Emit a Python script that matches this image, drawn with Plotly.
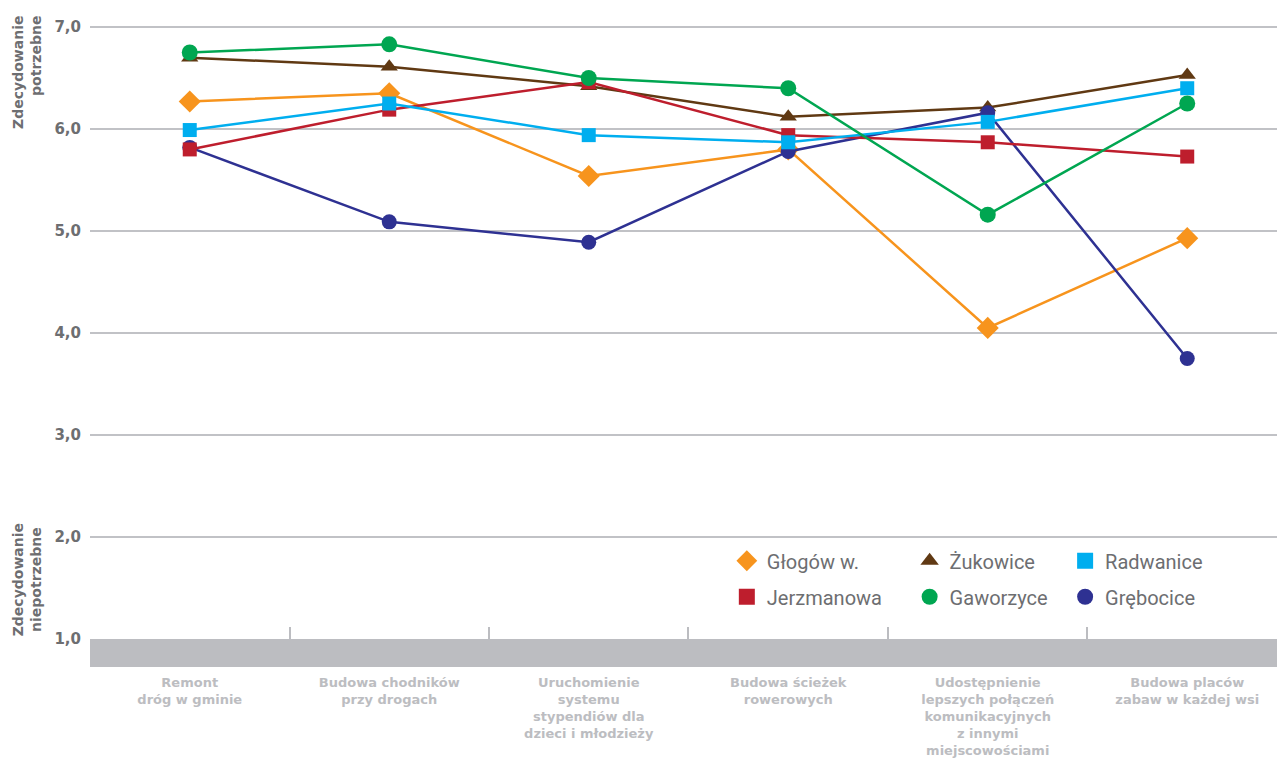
import plotly.graph_objects as go

categories = [
    "Remont<br>dróg w gminie",
    "Budowa chodników<br>przy drogach",
    "Uruchomienie<br>systemu<br>stypendiów dla<br>dzieci i młodzieży",
    "Budowa ścieżek<br>rowerowych",
    "Udostępnienie<br>lepszych połączeń<br>komunikacyjnych<br>z innymi<br>miejscowościami",
    "Budowa placów<br>zabaw w każdej wsi",
]

glogow = [6.27, 6.35, 5.54, 5.80, 4.05, 4.93]
zukowice = [6.70, 6.61, 6.42, 6.12, 6.21, 6.53]
radwanice = [5.99, 6.25, 5.94, 5.87, 6.07, 6.40]
jerzmanowa = [5.80, 6.19, 6.46, 5.94, 5.87, 5.73]
gaworzyce = [6.75, 6.83, 6.50, 6.40, 5.16, 6.25]
grebocice = [5.82, 5.09, 4.89, 5.78, 6.16, 3.75]

y_ticks = [1, 2, 3, 4, 5, 6, 7]

series = {
    "Głogów w.": dict(y=glogow, color="#f7941d", symbol="diamond", size=17, legend="legend"),
    "Żukowice": dict(y=zukowice, color="#603913", symbol="triangle-up", size=15, legend="legend2"),
    "Radwanice": dict(y=radwanice, color="#00aeef", symbol="square", size=14, legend="legend3"),
    "Jerzmanowa": dict(y=jerzmanowa, color="#be1e2d", symbol="square", size=14, legend="legend"),
    "Gaworzyce": dict(y=gaworzyce, color="#00a651", symbol="circle", size=16, legend="legend2"),
    "Grębocice": dict(y=grebocice, color="#2e3192", symbol="circle", size=15, legend="legend3"),
}

draw_order = ["Żukowice", "Głogów w.", "Grębocice", "Jerzmanowa", "Radwanice", "Gaworzyce"]
legend_order = ["Głogów w.", "Jerzmanowa", "Żukowice", "Gaworzyce", "Radwanice", "Grębocice"]

fig = go.Figure()
for name in draw_order:
    s = series[name]
    fig.add_trace(go.Scatter(
        x=categories, y=s["y"], mode="lines+markers", name=name,
        line=dict(color=s["color"], width=2.5),
        marker=dict(symbol=s["symbol"], size=s["size"], color=s["color"], line=dict(width=0)),
        showlegend=False, hoverinfo="x+y+name",
    ))
for name in legend_order:
    s = series[name]
    fig.add_trace(go.Scatter(
        x=[None], y=[None], mode="markers", name=name,
        marker=dict(symbol=s["symbol"], size=16, color=s["color"], line=dict(width=0)),
        legend=s["legend"], legendgroup=name, showlegend=True,
    ))

legend_common = dict(
    orientation="v", yanchor="top", xanchor="left", y=0.153,
    font=dict(family="Roboto", size=20, color="#6d6e71"),
    bgcolor="rgba(0,0,0,0)", tracegroupgap=7, itemsizing="trace",
)

fig.update_layout(
    width=1277, height=762,
    margin=dict(l=90, r=0, t=0, b=123),
    paper_bgcolor="white", plot_bgcolor="white",
    separators=", ",
    xaxis=dict(
        range=[-0.5, 5.45], showgrid=False, zeroline=False, showline=False,
        ticks="inside", tickson="boundaries", ticklen=12, tickwidth=1.5, tickcolor="#bcbdc1",
        tickfont=dict(family="DejaVu Sans", size=13, color="#bcbdc1", weight="bold"),
        ticklabelstandoff=34,
    ),
    yaxis=dict(
        range=[1, 7.265], tickvals=y_ticks, tickformat=".1f",
        showgrid=True, gridcolor="#c1c2c6", gridwidth=2, zeroline=False, showline=False,
        tickfont=dict(family="DejaVu Sans", size=15, color="#6d6e71", weight="bold"),
        ticklabelstandoff=8,
    ),
    legend=dict(legend_common, x=0.5365),
    legend2=dict(legend_common, x=0.6905),
    legend3=dict(legend_common, x=0.8215),
    shapes=[dict(type="rect", xref="paper", yref="paper", x0=0, x1=1, y0=-28 / 639, y1=0,
                 fillcolor="#bcbdc1", line=dict(width=0), layer="above")],
    annotations=[
        dict(text="Zdecydowanie<br>potrzebne", xref="paper", yref="paper", x=-0.053, y=0.886,
             textangle=-90, showarrow=False, align="right", xanchor="center", yanchor="middle",
             font=dict(family="DejaVu Sans", size=14, color="#6d6e71", weight="bold")),
        dict(text="Zdecydowanie<br>niepotrzebne", xref="paper", yref="paper", x=-0.053, y=0.092,
             textangle=-90, showarrow=False, align="center", xanchor="center", yanchor="middle",
             font=dict(family="DejaVu Sans", size=14, color="#6d6e71", weight="bold")),
    ],
)

fig.write_html("out.html", config={"displayModeBar": False},
               post_script="document.body.style.margin='0';")
